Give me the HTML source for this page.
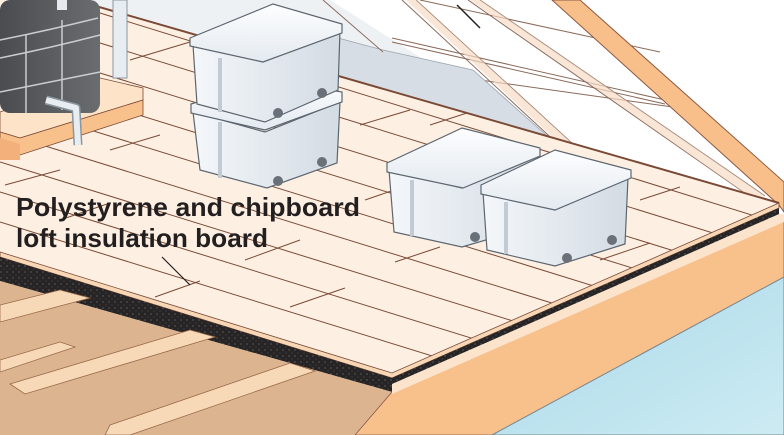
<!DOCTYPE html>
<html><head><meta charset="utf-8"><style>
html,body{margin:0;padding:0;background:#fff;width:784px;height:435px;overflow:hidden;}
svg{display:block}
text{font-family:"Liberation Sans",Arial,sans-serif;font-weight:bold;fill:#231f20}
</style></head><body>
<svg width="784" height="435" viewBox="0 0 784 435" xmlns="http://www.w3.org/2000/svg">
<defs>
<linearGradient id="bx" x1="0" x2="1" y1="0" y2="0">
<stop offset="0" stop-color="#f4f7fa"/><stop offset="1" stop-color="#d3dbe3"/></linearGradient>
<linearGradient id="lid" x1="0" x2="0" y1="0" y2="1">
<stop offset="0" stop-color="#fdfeff"/><stop offset="1" stop-color="#e4eaf0"/></linearGradient>
<linearGradient id="blue" x1="0" x2="1" y1="0" y2="1">
<stop offset="0" stop-color="#a8d9e8"/><stop offset="1" stop-color="#cdebf3"/></linearGradient>
<linearGradient id="tank" x1="0" x2="1"><stop offset="0" stop-color="#4a4c4f"/><stop offset="1" stop-color="#6a6d70"/></linearGradient>
<pattern id="spk" width="6" height="6" patternUnits="userSpaceOnUse">
<rect width="6" height="6" fill="#262424"/><circle cx="1" cy="2" r="0.5" fill="#aaa"/><circle cx="4" cy="5" r="0.4" fill="#888"/></pattern>
<clipPath id="fl"><polygon points="0,0 75,0 779,203 392,373 0,252"/></clipPath>
</defs>

<rect x="0" y="0" width="560" height="150" fill="#eef1f4"/>
<polygon points="330,0 560,0 779,205 555,143" fill="#fff"/>
<g stroke="#8a6a5a" stroke-width="1" fill="none">
<line x1="402" y1="0" x2="560" y2="146"/><line x1="416" y1="0" x2="575" y2="146"/>
<line x1="468" y1="0" x2="752" y2="198"/><line x1="480" y1="0" x2="765" y2="196"/>
<line x1="392" y1="38" x2="665" y2="100"/><line x1="392" y1="42" x2="665" y2="104"/>
<line x1="480" y1="80" x2="680" y2="108"/>
<line x1="420" y1="0" x2="660" y2="52"/>
</g>
<polygon points="406,0 416,0 575,146 562,146" fill="#f6dcc4" opacity="0.7"/>
<polygon points="470,0 480,0 765,196 752,198" fill="#f6dcc4" opacity="0.7"/>
<line x1="457" y1="5" x2="480" y2="28" stroke="#222" stroke-width="1.5"/>
<polygon points="338,38 383,50 473,70 555,143 338,85" fill="#d6dde4" stroke="#9aa4ae" stroke-width="0.8"/>
<line x1="323" y1="0" x2="383" y2="52" stroke="#8a6a5a"/>
<polygon points="552,0 580,0 784,182 784,212 779,205" fill="#f8bf8a" stroke="#8a5a44" stroke-width="1"/>

<polygon points="0,0 75,0 779,203 392,373 0,252" fill="#fdf0e2"/>
<g clip-path="url(#fl)" stroke="#7a4a36" stroke-width="1">
<line x1="0" y1="222" x2="784" y2="465"/>
<line x1="0" y1="192" x2="784" y2="435"/>
<line x1="0" y1="162" x2="784" y2="405"/>
<line x1="0" y1="132" x2="784" y2="375"/>
<line x1="0" y1="102" x2="784" y2="345"/>
<line x1="0" y1="72" x2="784" y2="315"/>
<line x1="0" y1="42" x2="784" y2="285"/>
<line x1="0" y1="12" x2="784" y2="255"/>
<line x1="0" y1="-18" x2="784" y2="225"/>
<line x1="0" y1="-48" x2="784" y2="195"/>
<line x1="0" y1="-78" x2="784" y2="165"/>
<line x1="155" y1="297" x2="200" y2="281"/>
<line x1="290" y1="307" x2="345" y2="288"/>
<line x1="245" y1="260" x2="300" y2="240"/>
<line x1="395" y1="262" x2="440" y2="247"/>
<line x1="5" y1="185" x2="60" y2="170"/>
<line x1="60" y1="220" x2="110" y2="203"/>
<line x1="110" y1="150" x2="160" y2="135"/>
<line x1="180" y1="45" x2="230" y2="30"/>
<line x1="130" y1="60" x2="180" y2="45"/>
<line x1="240" y1="120" x2="290" y2="105"/>
<line x1="360" y1="125" x2="410" y2="110"/>
<line x1="365" y1="200" x2="400" y2="188"/>
<line x1="520" y1="210" x2="560" y2="196"/>
<line x1="600" y1="260" x2="650" y2="243"/>
<line x1="640" y1="200" x2="680" y2="187"/>
<line x1="430" y1="125" x2="470" y2="112"/>
</g>
<line x1="75" y1="0" x2="779" y2="203" stroke="#7a4a36" stroke-width="2"/>
<polygon points="0,252 392,373 779,203 779,208 392,378 0,257" fill="#f8d7b6" stroke="#7a4a36" stroke-width="0.8"/>

<polygon points="0,257 392,378 779,208 779,218 392,392 0,281" fill="url(#spk)"/>
<polygon points="0,281 392,392 355,435 0,435" fill="#dcb590"/>
<g fill="#f7d9b8" stroke="#9a6a4a" stroke-width="0.8">
<polygon points="0,305 60,290 90,298 0,322"/>
<polygon points="10,384 190,330 215,337 25,394"/>
<polygon points="110,425 290,363 315,371 130,435 105,435"/>
<polygon points="0,360 60,342 75,347 0,372"/>
</g>
<polygon points="355,435 392,392 779,218 784,216 784,277 492,435" fill="#f8c08b" stroke="#8a5a44" stroke-width="0.8"/>
<polygon points="392,384 779,214 784,214 784,222 392,394" fill="#fbe3cc"/>
<polygon points="492,435 784,277 784,435" fill="url(#blue)" stroke="#7a8a92" stroke-width="1"/>

<polygon points="0,112 100,78 143,88 143,100 20,138 0,132" fill="#fde3c8" stroke="#7a4a36" stroke-width="0.8"/>
<polygon points="0,132 20,138 143,100 143,115 20,155 0,150" fill="#f8c08b" stroke="#7a4a36" stroke-width="0.8"/>
<polygon points="0,138 20,144 20,160 0,160" fill="#f3b07a"/>
<rect x="0" y="0" width="100" height="113" rx="10" fill="url(#tank)"/>
<g stroke="#c9cdd1" stroke-width="1.5" fill="none">
<path d="M0,40 Q50,30 98,18"/><path d="M0,58 Q50,48 100,35"/><path d="M0,92 Q50,82 100,72"/>
<line x1="26" y1="35" x2="26" y2="113"/><line x1="62" y1="20" x2="62" y2="110"/>
</g>
<rect x="57" y="0" width="10" height="10" fill="#e6eaee"/>
<path d="M46,100 L76,108 L78,145" stroke="#8a96a0" stroke-width="9" fill="none" stroke-linejoin="round"/>
<path d="M46,100 L76,108 L78,145" stroke="#e8edf1" stroke-width="6" fill="none" stroke-linejoin="round"/>
<rect x="113" y="0" width="14" height="78" fill="#e8edf1" stroke="#8a96a0"/>

<g stroke="#5d6670" stroke-width="1.2">
<polygon points="193,112 265,132 340,102 337,163 267,188 200,170" fill="url(#bx)"/>
<polygon points="191,104 268,80 342,92 342,102 265,130 191,113" fill="url(#lid)"/>
<polygon points="193,45 263,62 340,30 338,90 265,122 197,104" fill="url(#bx)"/>
<polygon points="190,38 273,4 342,24 342,33 263,62 190,46" fill="url(#lid)"/>
<polygon points="389,170 462,188 538,155 537,225 462,247 394,232" fill="url(#bx)"/>
<polygon points="387,163 462,128 540,148 540,156 463,188 387,172" fill="url(#lid)"/>
<polygon points="483,192 555,210 628,178 625,244 555,266 487,250" fill="url(#bx)"/>
<polygon points="481,185 555,150 631,170 631,178 555,210 481,194" fill="url(#lid)"/>
</g>
<g stroke="#c2cad3" stroke-width="4" fill="none">
<line x1="220" y1="58" x2="220" y2="112"/><line x1="220" y1="122" x2="220" y2="178"/>
<line x1="412" y1="180" x2="412" y2="236"/><line x1="506" y1="202" x2="506" y2="254"/>
</g>
<g fill="#6a7078">
<circle cx="278" cy="113" r="5"/><circle cx="322" cy="93" r="5"/>
<circle cx="278" cy="181" r="5"/><circle cx="322" cy="162" r="5"/>
<circle cx="475" cy="237" r="5"/><circle cx="567" cy="258" r="5"/><circle cx="612" cy="240" r="5"/>
</g>

<text x="16" y="216" font-size="26" textLength="344" lengthAdjust="spacingAndGlyphs">Polystyrene and chipboard</text>
<text x="16" y="247" font-size="26" textLength="252" lengthAdjust="spacingAndGlyphs">loft insulation board</text>
<line x1="162" y1="257" x2="190" y2="285" stroke="#231f20" stroke-width="1.2"/>
</svg>
</body></html>
